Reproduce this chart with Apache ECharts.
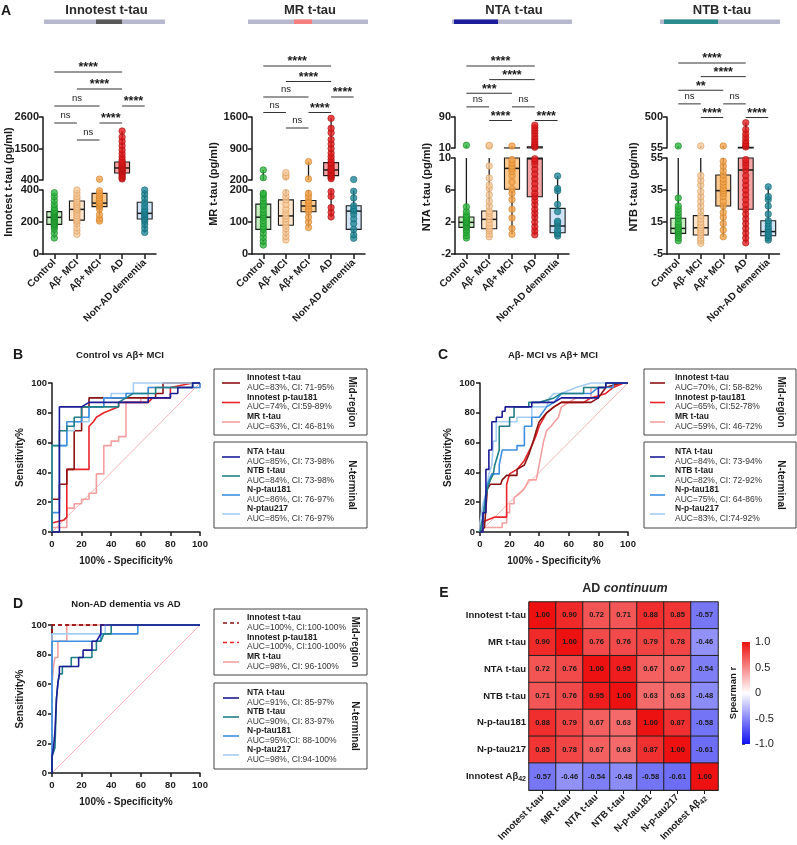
<!DOCTYPE html>
<html><head><meta charset="utf-8">
<script src="https://cdn.jsdelivr.net/npm/echarts@6/dist/echarts.min.js"></script>
<style>html,body{margin:0;padding:0;background:#fff}#c{width:797px;height:845px}</style>
</head><body><div id="c"></div>
<script>
const FONT = '"Liberation Sans", Arial, Helvetica, sans-serif';

// ---------- Panel A data ----------
const groups = ['Control', 'Aβ- MCI', 'Aβ+ MCI', 'AD', 'Non-AD dementia'];
const groupPoint = ['#2db83d', '#f7c99a', '#f5a34a', '#e3191c', '#1f8797'];
const groupEdge = ['#1a7a25', '#d49552', '#c47a22', '#a01010', '#14606c'];
const groupFill = ['#c6efc0', '#fde5cc', '#fbc98e', '#f5a3a3', '#cfe5f7'];

// box stats: [min, Q1, median, Q3, max]
const innotestBox = [[100,185,229,265,383],[123,212,279,331,400],[206,296,318,379,430],[436,645,820,1029,2111],[135,219,254,323,400]];
const innotestPts = [
  [100,130,155,170,180,185,190,198,205,212,218,224,229,233,238,244,250,256,262,266,275,290,310,335,360,383],
  [123,145,165,190,205,212,225,240,255,268,279,288,298,310,322,331,345,360,380,400],
  [206,220,245,280,296,305,312,318,325,335,350,365,379,395,430],
  [436,480,540,600,645,690,730,770,800,820,850,890,930,980,1029,1100,1200,1320,1450,1600,1750,1900,2111],
  [135,160,185,205,219,232,245,254,265,280,300,323,350,375,400]
];
const innotestUpper = [400, 2600, 1100];
const innotestLower = [0, 400, 200];
const innotestSig = [[0,3,5,'****'],[1,3,4,'****'],[0,2,3,'ns'],[3,4,3,'****'],[0,1,2,'ns'],[2,3,2,'****'],[1,2,1,'ns']];

const mrBox = [[28,77,115,156,423],[44,90,119,169,364],[83,132,150,167,608],[116,297,423,586,1570],[49,77,134,151,210]];
const mrPts = [
  [28,40,52,65,77,85,95,105,115,122,130,140,150,156,165,175,185,190,252,423],
  [44,55,68,80,90,100,110,119,128,140,155,169,180,192,265,300,364],
  [83,100,115,132,140,150,158,167,180,190,224,608],
  [116,130,145,180,195,230,260,297,330,360,400,423,460,510,560,586,650,720,800,900,1000,1100,1250,1350,1570],
  [49,60,77,95,110,125,134,140,151,175,196,210]
];
const mrUpper = [200, 1600, 700];
const mrLower = [0, 200, 100];
const mrSig = [[0,3,5,'****'],[1,3,4,'****'],[0,2,3,'ns'],[3,4,3,'****'],[0,1,2,'ns'],[2,3,2,'****'],[1,2,1,'ns']];

const ntaBox = [[0,1.33,1.96,2.63,17],[0.16,1.16,2.33,3.38,17],[0.46,6.1,8.7,10.2,15],[0.4,5.16,9.9,13.4,69],[0.25,0.66,1.5,3.7,7.75]];
const ntaPts = [
  [0,0.3,0.7,1.0,1.33,1.5,1.7,1.9,1.96,2.1,2.3,2.5,2.63,2.9,3.3,3.9,17],
  [0.16,0.5,0.9,1.16,1.5,1.9,2.33,2.7,3.1,3.38,4.0,4.6,5.4,6.2,6.6,7.5,9.0,15,17],
  [0.46,1.2,2.5,3.6,4.8,5.6,6.1,7.0,7.8,8.3,8.7,9.0,9.4,9.8,15],
  [0.4,0.9,1.4,2.0,2.6,3.1,3.6,4.2,4.7,5.16,5.6,6.2,6.8,7.4,8.0,8.6,9.2,9.6,9.9,12,15,20,26,33,40,48,55,62,69],
  [0.25,0.5,0.66,1.0,1.5,1.9,2.1,3.3,4.2,5.9,6.2,7.75]
];
const ntaUpper = [10, 90, 80];
const ntaLower = [-2, 10, 4];
const ntaSig = [[0,3,5,'****'],[1,3,4,'****'],[0,2,3,'***'],[0,1,2,'ns'],[2,3,2,'ns'],[1,2,1,'****'],[3,4,1,'****']];

const ntbBox = [[3.3,7.9,11,17.3,84],[1.7,6.9,11.4,19,84],[5.8,25,34.6,44.4,84],[2,23,47.5,65,418],[3.75,6.4,9,15.8,37]];
const ntbPts = [
  [3.3,5,6.5,7.9,9,10,11,12,13.5,15,17.3,19,21,23,25,30,84],
  [1.7,3.5,5,6.9,8.5,10,11.4,13,15,17,19,22,25,28,31,34,38,41,44,84],
  [5.8,10,14,18,21,25,28,31,33,34.6,36,38,40,42,44.4,47,50,53,84],
  [2,5,8,11,14,17,20,23,26,29,32,35,38,41,44,47.5,50,52,54,70,90,120,160,210,260,320,418],
  [3.75,5,6.4,7.5,9,10.5,12,14,15.8,20,25,29,31,37]
];
const ntbUpper = [55, 500, 445];
const ntbLower = [-5, 55, 20];
const ntbSig = [[0,3,5,'****'],[1,3,4,'****'],[0,2,3,'**'],[0,1,2,'ns'],[2,3,2,'ns'],[1,2,1,'****'],[3,4,1,'****']];

// ---------- ROC data ----------
const rocColors = ['#8b1212', '#e8252a', '#f4a0a0', '#1c1c96', '#1f7f86', '#3d8fe0', '#a6cdf2'];
const rocDiagonal = [[0,0],[100,100]];

const rocBNames = ['Innotest t-tau','Innotest p-tau181','MR t-tau','NTA t-tau','NTB t-tau','N-p-tau181','N-ptau217'];
const rocBAuc = ['AUC=83%, CI: 71-95%','AUC=74%, CI:59-89%','AUC=63%, CI: 46-81%','AUC=85%, CI: 73-98%','AUC=84%, CI: 73-98%','AUC=86%, CI: 76-97%','AUC=85%, CI: 76-97%'];
const rocB_innoT = [[0,0],[0,22],[5,22],[5,32],[10,32],[10,42],[15,42],[15,68],[20,68],[20,84],[25,84],[25,90],[35,90],[70,90],[70,93],[75,93],[75,100],[100,100]];
const rocB_innoP = [[0,0],[0,6],[8,8],[10,10],[10,42],[25,42],[25,71],[28,74],[30,77],[35,80],[40,82],[45,84],[45,87],[65,87],[68,90],[80,90],[80,97],[95,100],[100,100]];
const rocB_mr = [[0,0],[0,3],[10,3],[10,16],[15,16],[15,19],[20,19],[20,22],[25,22],[25,26],[30,26],[30,39],[35,39],[35,58],[40,58],[40,61],[45,61],[45,64],[50,64],[50,87],[60,87],[60,90],[65,90],[65,97],[100,97],[100,100]];
const rocB_nta = [[0,0],[5,0],[5,84],[20,84],[25,87],[65,87],[65,90],[80,90],[80,93],[85,93],[85,97],[95,97],[95,100],[100,100]];
const rocB_ntb = [[0,0],[0,58],[5,58],[5,68],[10,68],[10,71],[15,71],[15,77],[20,77],[20,84],[45,84],[45,87],[50,90],[55,93],[70,93],[70,97],[95,97],[95,100],[100,100]];
const rocB_np181 = [[0,0],[0,13],[5,13],[5,58],[10,58],[10,74],[20,74],[20,77],[25,77],[25,84],[35,84],[35,90],[50,90],[50,93],[65,93],[65,97],[100,97],[100,100]];
const rocB_np217 = [[0,0],[0,58],[10,58],[10,68],[15,68],[15,74],[25,74],[25,84],[35,84],[35,90],[40,90],[40,93],[55,93],[55,100],[100,100]];

const rocCNames = ['Innotest t-tau','Innotest p-tau181','MR t-tau','NTA t-tau','NTB t-tau','N-p-tau181','N-p-tau217'];
const rocCAuc = ['AUC=70%, CI: 58-82%','AUC=65%, CI:52-78%','AUC=59%, CI: 46-72%','AUC=84%, CI: 73-94%','AUC=82%, CI: 72-92%','AUC=75%, CI: 64-86%','AUC=83%, CI:74-92%'];
const rocC_innoT = [[0,0],[3,3],[5,29],[7,32],[14,32],[15,35],[18,38],[25,38],[25,42],[30,45],[33,52],[36,61],[38,68],[40,74],[45,80],[50,84],[55,87],[75,87],[80,90],[85,97],[95,100],[100,100]];
const rocC_innoP = [[0,0],[0,6],[5,8],[10,10],[18,10],[18,32],[20,39],[25,42],[30,48],[35,58],[38,65],[40,71],[45,80],[50,84],[55,87],[70,87],[75,90],[85,93],[90,97],[97,100],[100,100]];
const rocC_mr = [[0,0],[3,3],[15,3],[15,6],[18,6],[18,13],[20,13],[20,19],[23,19],[23,23],[27,26],[30,29],[33,35],[38,35],[40,45],[43,61],[45,68],[48,71],[53,77],[55,84],[60,87],[65,90],[75,90],[75,97],[85,97],[95,100],[100,100]];
const rocC_nta = [[0,0],[2,0],[2,13],[4,13],[4,42],[6,42],[6,55],[8,55],[8,74],[11,74],[11,77],[15,77],[15,81],[17,81],[17,84],[35,84],[35,87],[50,87],[55,90],[80,90],[80,97],[85,97],[85,100],[100,100]];
const rocC_ntb = [[0,0],[2,10],[5,29],[7,35],[9,39],[10,45],[13,55],[13,71],[20,71],[20,77],[23,77],[23,84],[33,84],[33,87],[40,87],[50,90],[55,93],[70,93],[70,97],[85,97],[85,100],[100,100]];
const rocC_np181 = [[0,0],[1,3],[3,19],[5,32],[8,39],[13,39],[13,45],[15,55],[25,55],[25,58],[30,58],[30,71],[35,71],[35,77],[40,77],[45,84],[50,87],[55,93],[75,93],[80,97],[90,97],[90,100],[100,100]];
const rocC_np217 = [[0,0],[0,6],[2,19],[4,26],[6,39],[8,45],[9,61],[11,61],[11,74],[25,74],[25,77],[35,77],[35,84],[45,84],[47,90],[50,93],[55,93],[65,97],[75,100],[100,100]];

const rocDNames = ['Innotest t-tau','Innotest p-tau181','MR t-tau','NTA t-tau','NTB t-tau','N-p-tau181','N-p-tau217'];
const rocDAuc = ['AUC=100%, CI:100-100%','AUC=100%, CI:100-100%','AUC=98%, CI: 96-100%','AUC=91%, CI: 85-97%','AUC=90%, CI: 83-97%','AUC=95%;CI: 88-100%','AUC=98%, CI:94-100%'];
const rocD_innoT = [[0,0],[0,100],[100,100]];
const rocD_innoP = [[0,0],[0,100],[100,100]];
const rocD_mr = [[0,0],[0,60],[1,72],[2,78],[4,78],[4,89],[10,89],[10,100],[100,100]];
const rocD_nta = [[0,0],[0,11],[1,17],[2,17],[2,28],[3,28],[3,50],[4,61],[5,67],[5,72],[18,72],[18,78],[21,78],[21,83],[27,83],[27,89],[30,89],[33,94],[33,100],[100,100]];
const rocD_ntb = [[0,0],[0,11],[2,17],[3,50],[4,61],[5,61],[5,67],[7,67],[7,72],[13,72],[13,78],[27,78],[27,83],[30,83],[30,89],[33,89],[35,94],[40,94],[40,100],[100,100]];
const rocD_np181 = [[0,0],[0,89],[33,89],[33,94],[58,94],[58,100],[100,100]];
const rocD_np217 = [[0,0],[0,94],[36,94],[36,100],[100,100]];

// ---------- Heatmap data ----------
const heatLabels = ['Innotest t-tau','MR t-tau','NTA t-tau','NTB t-tau','N-p-tau181','N-p-tau217','Innotest Aβ42'];
const heatValues = [
  [1.00, 0.90, 0.72, 0.71, 0.88, 0.85, -0.57],
  [0.90, 1.00, 0.76, 0.76, 0.79, 0.78, -0.46],
  [0.72, 0.76, 1.00, 0.95, 0.67, 0.67, -0.54],
  [0.71, 0.76, 0.95, 1.00, 0.63, 0.63, -0.48],
  [0.88, 0.79, 0.67, 0.63, 1.00, 0.87, -0.58],
  [0.85, 0.78, 0.67, 0.63, 0.87, 1.00, -0.61],
  [-0.57, -0.46, -0.54, -0.48, -0.58, -0.61, 1.00]
];
const colorbarTicks = [-1, -0.5, 0, 0.5, 1];

// ================= build =================
const grids = [], xAxes = [], yAxes = [], series = [], graphics = [];
function addGrid(g, x, y) { grids.push(g); x.gridIndex = grids.length - 1; y.gridIndex = grids.length - 1; xAxes.push(x); yAxes.push(y); return grids.length - 1; }
const INK = '#1a1a1a';
function txt(x, y, text, o) {
  o = o || {};
  return { type: 'text', x: x, y: y, rotation: o.rotation || 0, z: 50,
    style: Object.assign({ text: text, fill: INK, fontFamily: FONT, fontSize: 11, fontWeight: 'bold', align: 'center', verticalAlign: 'middle' }, o.style || {}) };
}
function gline(x1, y1, x2, y2, stroke, w, dash) {
  return { type: 'line', z: 50, shape: { x1, y1, x2, y2 }, style: { stroke, lineWidth: w, lineDash: dash || null } };
}
function grect(x, y, w, h, fill, stroke, lw) {
  return { type: 'rect', z: 40, shape: { x, y, width: w, height: h }, style: { fill: fill || 'none', stroke: stroke || null, lineWidth: lw || 0 } };
}

// ---- Panel A ----
const panelAData = [
  { title: 'Innotest t-tau', yName: 'Innotest t-tau (pg/ml)', box: innotestBox, pts: innotestPts, up: innotestUpper, lo: innotestLower, sig: innotestSig },
  { title: 'MR t-tau', yName: 'MR t-tau (pg/ml)', box: mrBox, pts: mrPts, up: mrUpper, lo: mrLower, sig: mrSig },
  { title: 'NTA t-tau', yName: 'NTA t-tau (pg/ml)', box: ntaBox, pts: ntaPts, up: ntaUpper, lo: ntaLower, sig: ntaSig },
  { title: 'NTB t-tau', yName: 'NTB t-tau (pg/ml)', box: ntbBox, pts: ntbPts, up: ntbUpper, lo: ntbLower, sig: ntbSig }
];
const panelALayout = [
  { left: 43, width: 113, upTop: 117, upH: 63, loTop: 190, loH: 64, br1: 140, br5: 72, nameX: 9, nameY: 182, bar: [44, 121], hl: [96, 26], hlColor: '#585858' },
  { left: 252, width: 113, upTop: 117, upH: 63, loTop: 190, loH: 64, br1: 128, br5: 66, nameX: 214, nameY: 184, bar: [248, 120], hl: [294, 18], hlColor: '#f47f7f' },
  { left: 455, width: 114, upTop: 117, upH: 31, loTop: 158, loH: 96, br1: 120.5, br5: 66, nameX: 427, nameY: 187, bar: [452, 120], hl: [454, 44], hlColor: '#1c1c9a' },
  { left: 667, width: 112.5, upTop: 117, upH: 31, loTop: 158, loH: 96, br1: 117.5, br5: 63, nameX: 634, nameY: 187, bar: [660, 120], hl: [664, 54], hlColor: '#2a8c8c' }
];

function boxRenderer(lo, hi) {
  return function (params, api) {
    const i = api.value(0);
    const v = [api.value(1), api.value(2), api.value(3), api.value(4), api.value(5)];
    const cl = y => Math.max(lo, Math.min(hi, y));
    const half = api.size([1, 0])[0] * 0.33;
    const pt = y => api.coord([i, cl(y)]);
    const ch = [];
    const seg = (a, b) => { const p1 = pt(a), p2 = pt(b); if (Math.abs(p1[1] - p2[1]) > 0.05) ch.push({ type: 'line', shape: { x1: p1[0], y1: p1[1], x2: p2[0], y2: p2[1] }, style: { stroke: INK, lineWidth: 1.3 } }); };
    seg(v[0], v[1]);
    seg(v[3], v[4]);
    if (v[3] > lo && v[1] < hi) {
      const a = pt(v[3]), b = pt(v[1]);
      ch.push({ type: 'rect', shape: { x: a[0] - half, y: a[1], width: 2 * half, height: b[1] - a[1] }, style: { fill: groupFill[i], stroke: INK, lineWidth: 1.1 } });
    }
    if (v[2] >= lo && v[2] <= hi) {
      const m = pt(v[2]);
      ch.push({ type: 'line', shape: { x1: m[0] - half, y1: m[1], x2: m[0] + half, y2: m[1] }, style: { stroke: INK, lineWidth: 1.5 } });
    }
    return { type: 'group', children: ch };
  };
}
function sigRenderer(sig) {
  return function (params, api) {
    const s = sig[params.dataIndex];
    const p1 = api.coord([s[0], s[2]]), p2 = api.coord([s[1], s[2]]);
    const ns = s[3] === 'ns';
    return { type: 'group', children: [
      { type: 'line', shape: { x1: p1[0], y1: p1[1], x2: p2[0], y2: p2[1] }, style: { stroke: '#333', lineWidth: 1 } },
      { type: 'text', x: (p1[0] + p2[0]) / 2, y: p1[1] + (ns ? -2.5 : 2.5), style: { text: s[3], fill: INK, fontFamily: FONT, fontSize: ns ? 9.5 : 12.5, fontWeight: ns ? 'normal' : 'bold', align: 'center', verticalAlign: 'bottom' } }
    ] };
  };
}
const yLabelA = { fontSize: 11, fontWeight: 'bold', color: INK, fontFamily: FONT, margin: 4, formatter: v => String(v) };
const axLine = { show: true, onZero: false, lineStyle: { color: INK, width: 1.5 } };
const axTick = { show: true, length: 4, lineStyle: { color: INK, width: 1.5 } };

panelAData.forEach((d, p) => {
  const L = panelALayout[p];
  const mkX = (show) => ({ type: 'category', data: groups, boundaryGap: true, show: show, axisLine: axLine,
    axisTick: { show: true, alignWithLabel: true, length: 5, lineStyle: { color: INK, width: 1.5 } },
    axisLabel: { rotate: 45, interval: 0, fontSize: 10, fontWeight: 'bold', color: INK, fontFamily: FONT, margin: 7 } });
  const mkY = (ax) => ({ type: 'value', min: ax[0], max: ax[1], interval: ax[2], axisLine: axLine, axisTick: axTick, splitLine: { show: false }, axisLabel: yLabelA });
  const gU = addGrid({ left: L.left, top: L.upTop, width: L.width, height: L.upH }, mkX(false), mkY(d.up));
  const gL = addGrid({ left: L.left, top: L.loTop, width: L.width, height: L.loH }, mkX(true), mkY(d.lo));
  const s = (L.br1 - L.br5) / 4;
  const gB = addGrid({ left: L.left, top: L.br5 - s, width: L.width, height: 6 * s },
    { type: 'category', data: groups, show: false }, { type: 'value', min: 0, max: 6, show: false });
  [[gU, d.up, false], [gL, d.lo, true]].forEach(([g, ax, isLower]) => {
    series.push({ type: 'custom', xAxisIndex: g, yAxisIndex: g, clip: false, z: 2, renderItem: boxRenderer(ax[0], ax[1]), data: d.box.map((b, i) => [i].concat(b)) });
    const pts = [];
    d.pts.forEach((arr, i) => arr.forEach(v => {
      const inside = isLower ? (v <= d.lo[1]) : (v > d.lo[1]);
      if (inside) pts.push({ value: [i, v], itemStyle: { color: groupPoint[i], borderColor: groupEdge[i], borderWidth: 0.7 } });
    }));
    series.push({ type: 'scatter', xAxisIndex: g, yAxisIndex: g, symbolSize: 6.5, clip: false, z: 3, data: pts });
  });
  series.push({ type: 'custom', xAxisIndex: gB, yAxisIndex: gB, clip: false, z: 4, renderItem: sigRenderer(d.sig), data: d.sig.map(r => [r[0], r[1], r[2]]) });
  graphics.push(txt(L.bar[0] + L.bar[1] / 2 + 2, 10, d.title, { style: { fontSize: 13, fill: '#2a2a2a' } }));
  graphics.push(grect(L.bar[0], 19.5, L.bar[1], 4.5, '#b7b7cd'));
  graphics.push(grect(L.hl[0], 19.5, L.hl[1], 4.5, L.hlColor));
  graphics.push(txt(L.nameX, L.nameY, d.yName, { rotation: Math.PI / 2, style: { fontSize: 11 } }));
});
graphics.push(txt(6, 11, 'A', { style: { fontSize: 14, align: 'center' } }));

// ---- ROC panels ----
const rocPanels = [
  { grid: { left: 52, top: 383, width: 148, height: 149 }, curves: [rocB_innoT, rocB_innoP, rocB_mr, rocB_nta, rocB_ntb, rocB_np181, rocB_np217],
    dashed: [false, false, false, false, false, false, false], names: rocBNames, aucs: rocBAuc,
    lg: { x0: 214, x1: 367, b1: [369, 435], b2: [442, 528], lx0: 222, lx1: 240, tx: 247, sideX: 352 },
    title: 'Control vs Aβ+ MCI', titleX: 120, titleY: 355, letter: 'B', letterX: 18, letterY: 355 },
  { grid: { left: 480, top: 383, width: 148, height: 149 }, curves: [rocC_innoT, rocC_innoP, rocC_mr, rocC_nta, rocC_ntb, rocC_np181, rocC_np217],
    dashed: [false, false, false, false, false, false, false], names: rocCNames, aucs: rocCAuc,
    lg: { x0: 644, x1: 796, b1: [369, 435], b2: [442, 528], lx0: 650, lx1: 665, tx: 675, sideX: 781 },
    title: 'Aβ- MCI vs Aβ+ MCI', titleX: 553, titleY: 355, letter: 'C', letterX: 443, letterY: 355 },
  { grid: { left: 52, top: 625, width: 148, height: 148 }, curves: [rocD_innoT, rocD_innoP, rocD_mr, rocD_nta, rocD_ntb, rocD_np181, rocD_np217],
    dashed: [true, true, false, false, false, false, false], names: rocDNames, aucs: rocDAuc,
    lg: { x0: 214, x1: 367, b1: [609, 675], b2: [683, 769], lx0: 223, lx1: 239, tx: 247, sideX: 355 },
    title: 'Non-AD dementia vs AD', titleX: 126, titleY: 604, letter: 'D', letterX: 18, letterY: 604 }
];
const rocLabel = { fontSize: 9.5, fontWeight: 'bold', color: INK, fontFamily: FONT };
rocPanels.forEach(R => {
  const g = addGrid(R.grid,
    { type: 'value', min: 0, max: 100, interval: 20, axisLine: axLine, axisTick: axTick, splitLine: { show: false }, axisLabel: Object.assign({ margin: 7 }, rocLabel),
      name: '100% - Specificity%', nameLocation: 'middle', nameGap: 24, nameTextStyle: { fontSize: 10, fontWeight: 'bold', color: INK, fontFamily: FONT } },
    { type: 'value', min: 0, max: 100, interval: 20, axisLine: axLine, axisTick: axTick, splitLine: { show: false }, axisLabel: Object.assign({ margin: 5 }, rocLabel),
      name: 'Sensitivity%', nameLocation: 'middle', nameGap: 27, nameTextStyle: { fontSize: 10, fontWeight: 'bold', color: INK, fontFamily: FONT } });
  series.push({ type: 'line', xAxisIndex: g, yAxisIndex: g, data: rocDiagonal, showSymbol: false, clip: false, z: 1, lineStyle: { color: '#f4a0a0', width: 0.8 } });
  const order = [2, 1, 0, 6, 5, 4, 3];
  order.forEach(k => {
    series.push({ type: 'line', xAxisIndex: g, yAxisIndex: g, data: R.curves[k], showSymbol: false, clip: false, z: 2,
      lineStyle: { color: rocColors[k], width: 1.6, type: R.dashed[k] ? [4, 3] : 'solid' } });
  });
  graphics.push(txt(R.titleX, R.titleY, R.title, { style: { fontSize: 9.5 } }));
  graphics.push(txt(R.letterX, R.letterY, R.letter, { style: { fontSize: 14 } }));
  const L = R.lg;
  graphics.push(grect(L.x0, L.b1[0], L.x1 - L.x0, L.b1[1] - L.b1[0], 'none', '#444', 1));
  graphics.push(grect(L.x0, L.b2[0], L.x1 - L.x0, L.b2[1] - L.b2[0], 'none', '#444', 1));
  R.names.forEach((nm, k) => {
    const y = k < 3 ? L.b1[0] + 9 + k * 19.5 : L.b2[0] + 10 + (k - 3) * 19;
    graphics.push(gline(L.lx0, y + 5, L.lx1, y + 5, rocColors[k], 1.6, R.dashed[k] ? [4, 3] : null));
    graphics.push(txt(L.tx, y, nm, { style: { fontSize: 8.5, align: 'left' } }));
    graphics.push(txt(L.tx, y + 9.5, R.aucs[k], { style: { fontSize: 8.5, fontWeight: 'normal', fill: '#333', align: 'left' } }));
  });
  graphics.push(txt(L.sideX, (L.b1[0] + L.b1[1]) / 2, 'Mid-region', { rotation: -Math.PI / 2, style: { fontSize: 10 } }));
  graphics.push(txt(L.sideX, (L.b2[0] + L.b2[1]) / 2, 'N-terminal', { rotation: -Math.PI / 2, style: { fontSize: 10 } }));
});

// ---- Heatmap ----
const heatFmt = v => v === 'Innotest Aβ42' ? '{a|Innotest Aβ}{s|42}' : '{a|' + v + '}';
const heatRich = { a: { fontSize: 9.5, fontWeight: 'bold', color: INK, fontFamily: FONT }, s: { fontSize: 7, fontWeight: 'bold', color: INK, fontFamily: FONT, padding: [5, 0, 0, 0] } };
const gH = addGrid({ left: 529, top: 602, width: 189, height: 188 },
  { type: 'category', data: heatLabels, axisLine: { show: true, lineStyle: { color: INK, width: 1.2 } }, axisTick: { show: true, alignWithLabel: true, length: 4, lineStyle: { color: INK } },
    axisLabel: { rotate: 45, interval: 0, margin: 6, formatter: heatFmt, rich: heatRich } },
  { type: 'category', data: heatLabels, inverse: true, axisLine: { show: true, lineStyle: { color: INK, width: 1.2 } }, axisTick: { show: false },
    axisLabel: { interval: 0, margin: 3, formatter: heatFmt, rich: heatRich } });
const heatData = [];
heatValues.forEach((row, r) => row.forEach((v, c) => heatData.push([c, r, v])));
const heatSeriesIndex = series.length;
series.push({ type: 'heatmap', xAxisIndex: gH, yAxisIndex: gH, data: heatData,
  itemStyle: { borderColor: '#222', borderWidth: 1 },
  label: { show: true, formatter: p => p.value[2].toFixed(2), fontSize: 7.5, fontWeight: 'bold', color: '#1a1a1a', fontFamily: FONT } });
graphics.push(txt(625, 589, '{b|AD }{i|continuum}', { style: { rich: { b: { fontSize: 12.5, fontWeight: 'bold', fill: '#2a2a2a', fontFamily: FONT }, i: { fontSize: 12.5, fontWeight: 'bold', fontStyle: 'italic', fill: '#2a2a2a', fontFamily: FONT } } } }));
graphics.push(txt(444, 593, 'E', { style: { fontSize: 14 } }));

// colorbar
const gC = addGrid({ left: 742, top: 642, width: 8, height: 102 },
  { type: 'value', min: 0, max: 1, show: false },
  { type: 'value', min: colorbarTicks[0], max: colorbarTicks[colorbarTicks.length - 1], interval: 0.5, position: 'right',
    axisLine: { show: false }, axisTick: { show: true, length: 3, inside: false, lineStyle: { color: '#555' } }, splitLine: { show: false },
    axisLabel: { fontSize: 11, color: '#222', fontFamily: FONT, margin: 5, formatter: v => (v === 0 ? '0' : v.toFixed(1)) } });
series.push({ type: 'custom', xAxisIndex: gC, yAxisIndex: gC, clip: false, data: [[0, 0]],
  renderItem: (params, api) => {
    const a = api.coord([0, colorbarTicks[colorbarTicks.length - 1]]), b = api.coord([1, colorbarTicks[0]]);
    return { type: 'rect', shape: { x: a[0], y: a[1], width: b[0] - a[0], height: b[1] - a[1] },
      style: { fill: new echarts.graphic.LinearGradient(0, 0, 0, 1, [{ offset: 0, color: '#ee1111' }, { offset: 0.5, color: '#ffffff' }, { offset: 1, color: '#1010f0' }]) } };
  } });
graphics.push(txt(733, 693, 'Spearman r', { rotation: Math.PI / 2, style: { fontSize: 9.5 } }));

const chart = echarts.init(document.getElementById('c'), null, { renderer: 'canvas' });
chart.setOption({
  animation: false,
  backgroundColor: '#ffffff',
  textStyle: { fontFamily: FONT },
  grid: grids, xAxis: xAxes, yAxis: yAxes, series: series, graphic: { elements: graphics },
  visualMap: [{ type: 'continuous', min: -1, max: 1, show: false, seriesIndex: heatSeriesIndex, inRange: { color: ['#1010f0', '#ffffff', '#ee1111'] } }]
});
</script>
</body></html>
